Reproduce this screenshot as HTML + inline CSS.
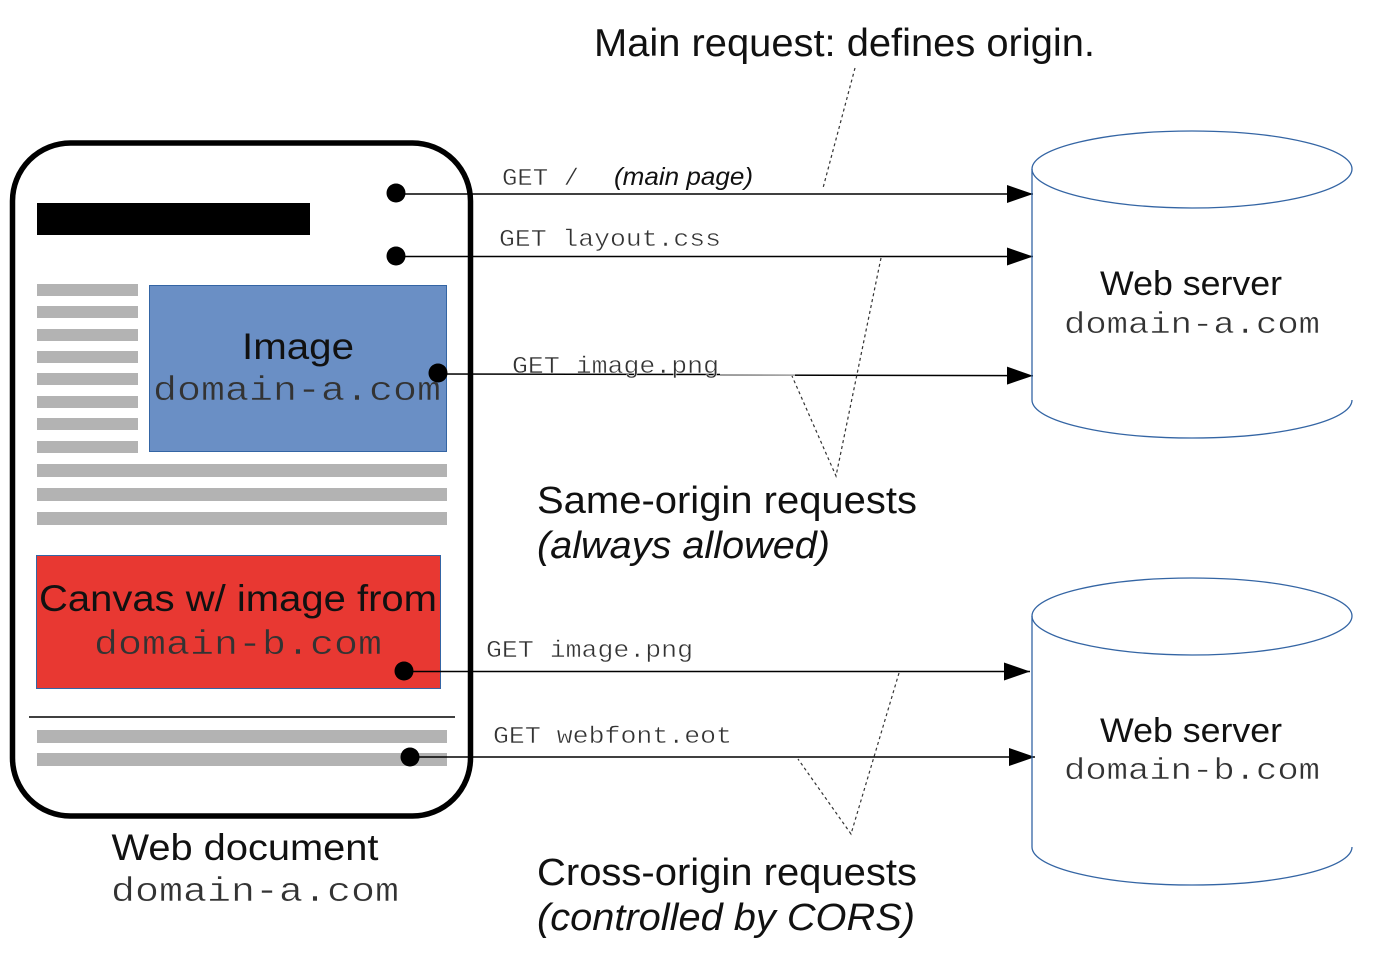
<!DOCTYPE html>
<html><head><meta charset="utf-8"><style>
html,body{margin:0;padding:0;background:#fff;width:1394px;height:960px;overflow:hidden}
svg{display:block;filter:blur(.35px)}
.s{font-family:"Liberation Sans",sans-serif;fill:#111}
.m{font-family:"Liberation Mono",monospace;fill:#333;stroke:#fff;stroke-width:.45px}
.b{stroke:#6a8fc5}
.r{stroke:#e83832}
</style></head><body>
<svg width="1394" height="960" viewBox="0 0 1394 960" xmlns="http://www.w3.org/2000/svg">
<defs><marker id="a" markerUnits="userSpaceOnUse" markerWidth="27" markerHeight="18" refX="26" refY="9" orient="auto"><path d="M0 0L26 9L0 18Z" fill="#000"/></marker></defs>
<rect x="12.500" y="143" width="458" height="673" rx="58" fill="#fff" stroke="#000" stroke-width="5.500"/>
<rect x="37" y="203" width="273" height="32" fill="#000"/>
<g fill="#b3b3b3">
<rect x="37" y="284" width="101" height="12"/><rect x="37" y="306" width="101" height="12"/><rect x="37" y="329" width="101" height="12"/><rect x="37" y="351" width="101" height="12"/><rect x="37" y="373" width="101" height="12"/><rect x="37" y="396" width="101" height="12"/><rect x="37" y="418" width="101" height="12"/><rect x="37" y="441" width="101" height="12"/>
<rect x="37" y="464" width="410" height="13"/><rect x="37" y="488" width="410" height="13"/><rect x="37" y="512" width="410" height="13"/>
<rect x="37" y="730" width="410" height="13"/><rect x="37" y="753" width="410" height="13"/>
</g>
<rect x="149.500" y="285.500" width="297" height="166" fill="#6a8fc5" stroke="#3465a4"/>
<rect x="36.500" y="555.500" width="404" height="133" fill="#e83832" stroke="#3465a4"/>
<line x1="29" y1="717" x2="455" y2="717" stroke="#000" stroke-width="1.500"/>
<text class="s" x="298" y="359" font-size="37" text-anchor="middle" textLength="112" lengthAdjust="spacingAndGlyphs">Image</text>
<text class="m b" x="297" y="400" font-size="34" text-anchor="middle" textLength="288" lengthAdjust="spacingAndGlyphs">domain-a.com</text>
<text class="s" x="238" y="611" font-size="37" text-anchor="middle" textLength="398" lengthAdjust="spacingAndGlyphs">Canvas w/ image from</text>
<text class="m r" x="238" y="654" font-size="34" text-anchor="middle" textLength="288" lengthAdjust="spacingAndGlyphs">domain-b.com</text>
<text class="s" x="245" y="860" font-size="37" text-anchor="middle" textLength="267" lengthAdjust="spacingAndGlyphs">Web document</text>
<text class="m" x="255" y="901" font-size="34" text-anchor="middle" textLength="288" lengthAdjust="spacingAndGlyphs">domain-a.com</text>
<g stroke="#000" stroke-width="1.500" fill="none">
<line x1="396" y1="194" x2="1033" y2="194" marker-end="url(#a)"/>
<line x1="396" y1="256.500" x2="1033" y2="256.500" marker-end="url(#a)"/>
<line x1="438" y1="374" x2="720" y2="374.500"/>
<line x1="720" y1="375" x2="1033" y2="375.700" marker-end="url(#a)"/>
<line x1="404" y1="671.500" x2="1030" y2="671.500" marker-end="url(#a)"/>
<line x1="410" y1="757" x2="1035" y2="757" marker-end="url(#a)"/>
</g>
<line x1="720" y1="375" x2="795" y2="375.200" stroke="#aaa" stroke-width="1.500"/>
<g fill="#000"><circle cx="396" cy="193" r="9.500"/><circle cx="396" cy="256" r="9.500"/><circle cx="438" cy="373" r="9.500"/><circle cx="404" cy="671" r="9.500"/><circle cx="410" cy="757" r="9.500"/></g>
<g stroke="#333" stroke-width="1.200" fill="none" stroke-dasharray="3 3">
<path d="M855 68L823 188"/>
<path d="M881 258L836 476L792 376"/>
<path d="M899 673L851 834L798 759"/>
</g>
<g fill="none" stroke="#3465a4" stroke-width="1.300">
<path d="M1352 169C1352 190 1280 208 1192 208C1104 208 1032 190 1032 169C1032 148 1104 131 1192 131C1280 131 1352 148 1352 169"/>
<path d="M1032 169V400C1032 421 1104 438 1192 438C1280 438 1352 421 1352 400"/>
<path d="M1352 616C1352 637 1280 655 1192 655C1104 655 1032 637 1032 616C1032 595 1104 578 1192 578C1280 578 1352 595 1352 616"/>
<path d="M1032 616V847C1032 868 1104 885 1192 885C1280 885 1352 868 1352 847"/>
</g>
<text class="s" x="1191" y="295" font-size="34" text-anchor="middle" textLength="182" lengthAdjust="spacingAndGlyphs">Web server</text>
<text class="m" x="1192" y="333" font-size="31" text-anchor="middle" textLength="256" lengthAdjust="spacingAndGlyphs">domain-a.com</text>
<text class="s" x="1191" y="742" font-size="34" text-anchor="middle" textLength="182" lengthAdjust="spacingAndGlyphs">Web server</text>
<text class="m" x="1192" y="779" font-size="31" text-anchor="middle" textLength="256" lengthAdjust="spacingAndGlyphs">domain-b.com</text>
<g font-size="24">
<text class="m" x="502" y="185" textLength="77" lengthAdjust="spacingAndGlyphs" xml:space="preserve">GET /</text>
<text class="s" x="614" y="185" font-style="italic" font-size="25" textLength="139" lengthAdjust="spacingAndGlyphs">(main page)</text>
<text class="m" x="499" y="246" textLength="222" lengthAdjust="spacingAndGlyphs" xml:space="preserve">GET layout.css</text>
<text class="m" x="512" y="373" textLength="207" lengthAdjust="spacingAndGlyphs" xml:space="preserve">GET image.png</text>
<text class="m" x="486" y="657" textLength="207" lengthAdjust="spacingAndGlyphs" xml:space="preserve">GET image.png</text>
<text class="m" x="493" y="743" textLength="239" lengthAdjust="spacingAndGlyphs" xml:space="preserve">GET webfont.eot</text>
</g>
<text class="s" x="594" y="56" font-size="39" textLength="501" lengthAdjust="spacingAndGlyphs">Main request: defines origin.</text>
<text class="s" x="537" y="513" font-size="38" textLength="380" lengthAdjust="spacingAndGlyphs">Same-origin requests</text>
<text class="s" x="537" y="558" font-size="38" font-style="italic" textLength="293" lengthAdjust="spacingAndGlyphs">(always allowed)</text>
<text class="s" x="537" y="885" font-size="38" textLength="380" lengthAdjust="spacingAndGlyphs">Cross-origin requests</text>
<text class="s" x="537" y="930" font-size="38" font-style="italic" textLength="378" lengthAdjust="spacingAndGlyphs">(controlled by CORS)</text>
</svg>
</body></html>
